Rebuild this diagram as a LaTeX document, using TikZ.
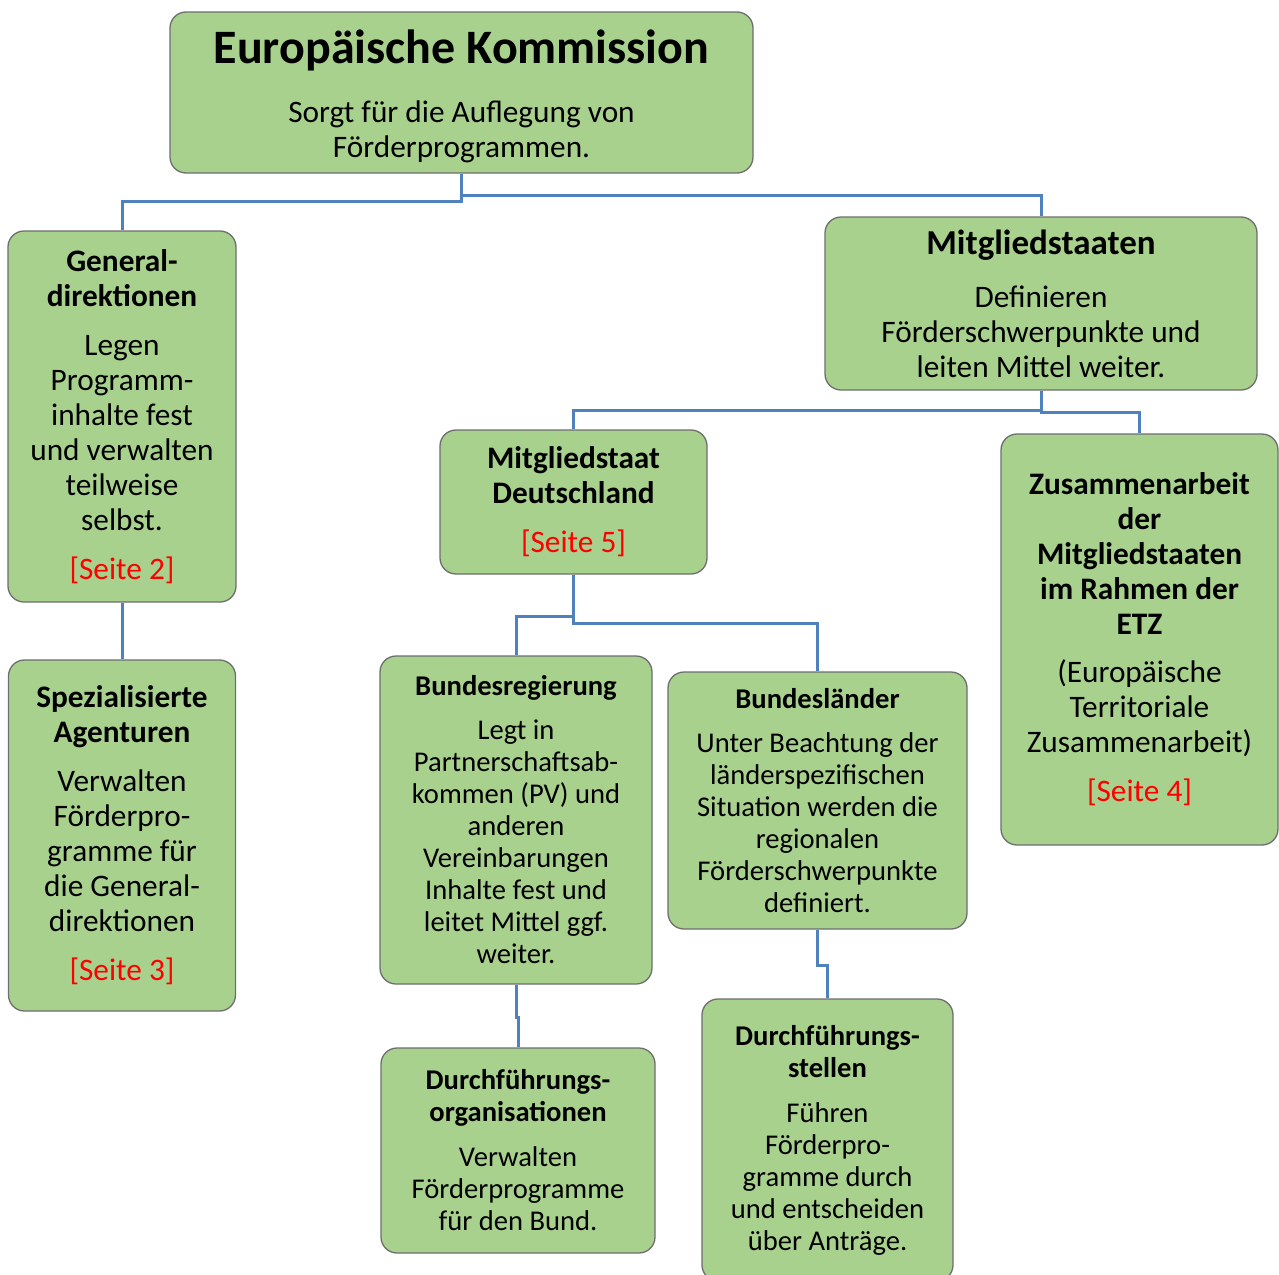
\documentclass[tikz,border=0pt]{standalone}
\usepackage{fontspec}
\setmainfont{Carlito}
\definecolor{boxfill}{HTML}{A9D18E}
\definecolor{boxline}{HTML}{6E6E6E}
\definecolor{connc}{HTML}{4F81BD}
\definecolor{seite}{HTML}{FF0000}
\tikzset{
  box/.style={draw=boxline, line width=1.3pt, fill=boxfill, rounded corners=16pt,
    align=center, inner sep=0pt, font=\fontsize{31.3}{35}\selectfont},
  lowbox/.style={box, font=\fontsize{28.6}{32}\selectfont},
  link/.style={draw=connc, line width=3pt},
}
\newcommand{\sref}[1]{\textcolor{seite}{#1}}
\begin{document}
\begin{tikzpicture}[x=1pt,y=-1pt]
\useasboundingbox (0,0) rectangle (1279,1274);
\clip (0,0) rectangle (1279,1274);
\fill[white] (0,0) rectangle (1279,1274);

% boxes
\node[box, minimum width=583pt, minimum height=161pt] (ek) at (461.5,92.5)
  {{\fontsize{48}{52}\selectfont\bfseries\rule{0pt}{42pt}Europäische Kommission}\\[24pt]
   Sorgt für die Auflegung von\\ Förderprogrammen.};
\node[box, minimum width=228pt, minimum height=371pt] (gd) at (122,416.5)
  {\textbf{General-}\\ \textbf{direktionen}\\[14pt]
   Legen\\ Programm-\\ inhalte fest\\ und verwalten\\ teilweise\\ selbst.\\[14pt]
   \sref{[Seite 2]}};
\node[box, minimum width=227pt, minimum height=351pt] (sa) at (122,835.5)
  {\textbf{Spezialisierte}\\ \textbf{Agenturen}\\[14pt]
   Verwalten\\ Förderpro-\\ gramme für\\ die General-\\ direktionen\\[14pt]
   \sref{[Seite 3]}};
\node[box, minimum width=432pt, minimum height=173pt] (ms) at (1041,303.5)
  {{\fontsize{35}{38}\selectfont\bfseries Mitgliedstaaten}\\[18pt]
   Definieren\\ Förderschwerpunkte und\\ leiten Mittel weiter.};
\node[box, minimum width=267pt, minimum height=144pt] (md) at (573.5,502)
  {\textbf{Mitgliedstaat}\\ \textbf{Deutschland}\\[14pt] \sref{[Seite 5]}};
\node[box, minimum width=277pt, minimum height=411pt] (zm) at (1139.5,639.5)
  {\textbf{Zusammenarbeit}\\ \textbf{der}\\ \textbf{Mitgliedstaaten}\\ \textbf{im Rahmen der}\\ \textbf{ETZ}\\[13pt]
   (Europäische\\ Territoriale\\ Zusammenarbeit)\\[14pt] \sref{[Seite 4]}};
\node[lowbox, minimum width=272pt, minimum height=328pt] (br) at (516,820)
  {\textbf{Bundesregierung}\\[12pt]
   Legt in\\ Partnerschaftsab-\\ kommen (PV) und\\ anderen\\ Vereinbarungen\\ Inhalte fest und\\ leitet Mittel ggf.\\ weiter.};
\node[lowbox, minimum width=299pt, minimum height=257pt] (bl) at (817.5,800.5)
  {\textbf{Bundesländer}\\[12pt]
   Unter Beachtung der\\ länderspezifischen\\ Situation werden die\\ regionalen\\ Förderschwerpunkte\\ definiert.};
\node[lowbox, minimum width=274pt, minimum height=205pt] (do) at (518,1150.5)
  {\textbf{Durchführungs-}\\ \textbf{organisationen}\\[13pt]
   Verwalten\\ Förderprogramme\\ für den Bund.};
\node[lowbox, minimum width=251pt, minimum height=282pt] (ds) at (827.5,1140)
  {\textbf{Durchführungs-}\\ \textbf{stellen}\\[13pt]
   Führen\\ Förderpro-\\ gramme durch\\ und entscheiden\\ über Anträge.};

% connectors
\draw[link] (ek.south) -- ++(0,28) -| (gd.north);
\draw[link] (ek.south) -- ++(0,22) -| (ms.north);
\draw[link] (gd.south) -- (sa.north);
\draw[link] (ms.south) -- ++(0,20) -| (md.north);
\draw[link] (ms.south) -- ++(0,22) -| (zm.north);
\draw[link] (md.south) -- ++(0,42) -| (br.north);
\draw[link] (md.south) -- ++(0,49) -| (bl.north);
\draw[link] (br.south) -- ++(0,33) -| (do.north);
\draw[link] (bl.south) -- ++(0,36) -| (ds.north);
\end{tikzpicture}
\end{document}
